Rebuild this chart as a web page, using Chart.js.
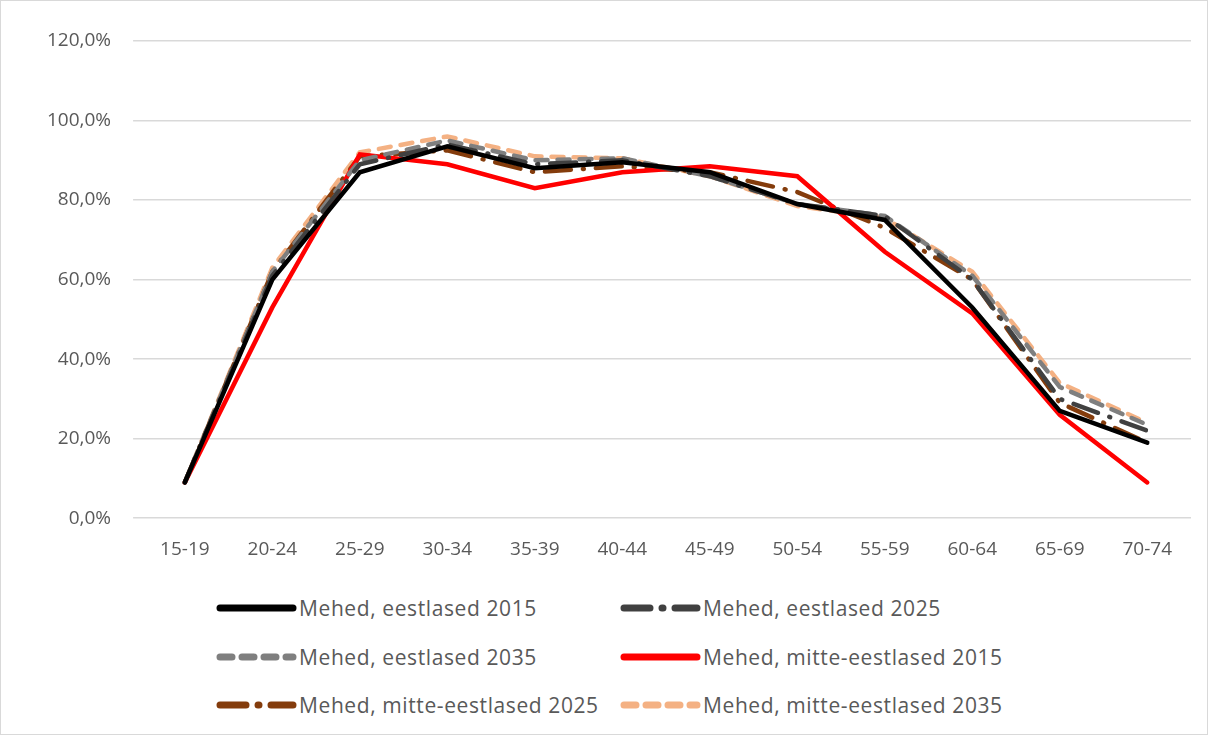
<!DOCTYPE html>
<html>
<head>
<meta charset="utf-8">
<script src="https://cdn.jsdelivr.net/npm/chart.js@4"></script>
<style>
  body { margin: 0; background: #fff; font-family: "Open Sans", sans-serif; }
  #wrap { position: relative; width: 1206px; height: 733px; border: 1px solid #d9d9d9; }
  #chart-box { position: absolute; left: 0; top: 0; width: 1206px; height: 572px; }
  .leg { position: absolute; display: flex; align-items: center; font-size: 21px; color: #595959; white-space: nowrap; letter-spacing: 0.6px; }
  .leg svg { margin-right: 2px; }
</style>
</head>
<body>
<div id="wrap">
  <div id="chart-box"><canvas id="chart"></canvas></div>
  <div id="legend"></div>
</div>
<script>
const categories = ["15-19","20-24","25-29","30-34","35-39","40-44","45-49","50-54","55-59","60-64","65-69","70-74"];
const est2015 = [9, 60, 87, 93.5, 88, 89.5, 87, 79, 75, 53, 27, 19];
const est2025 = [9, 61, 89, 94, 89, 90, 86, 79, 76, 60, 30, 22];
const est2035 = [9, 62, 90, 95, 90, 90.5, 86, 79, 76, 61, 33, 23.5];
const mid2015 = [9, 53, 91.5, 89, 83, 87, 88.5, 86, 67, 51.5, 26, 9];
const mid2025 = [9, 62, 91, 92.5, 87, 88.5, 87, 82, 73, 60, 29, 19];
const mid2035 = [9, 63, 92, 96, 91, 90.5, 86, 78.5, 75.5, 62, 34, 24];

const series = [
    { label: "Mehed, eestlased 2015", data: est2015, color: "#000000", dash: [] },
    { label: "Mehed, eestlased 2025", data: est2025, color: "#404040", dash: [26, 12, 1, 12] },
    { label: "Mehed, eestlased 2035", data: est2035, color: "#7f7f7f", dash: [12, 10] },
    { label: "Mehed, mitte-eestlased 2015", data: mid2015, color: "#ff0000", dash: [] },
    { label: "Mehed, mitte-eestlased 2025", data: mid2025, color: "#843c0c", dash: [26, 12, 1, 12] },
    { label: "Mehed, mitte-eestlased 2035", data: mid2035, color: "#f4b183", dash: [12, 10] },
];

const tickFont = { family: "Open Sans", size: 19 };

new Chart(document.getElementById("chart"), {
    type: "line",
    data: {
        labels: categories,
        datasets: series.map(s => ({
            label: s.label,
            data: s.data,
            borderColor: s.color,
            borderDash: s.dash,
            borderWidth: 4.5,
            borderCapStyle: "round",
            pointRadius: 0,
            tension: 0,
            fill: false,
        })),
    },
    options: {
        responsive: true,
        maintainAspectRatio: false,
        animation: false,
        layout: { padding: { left: 24, right: 16, top: 40, bottom: 0 } },
        plugins: { legend: { display: false }, tooltip: { enabled: false } },
        scales: {
            x: {
                offset: true,
                grid: { display: false },
                border: { display: false },
                ticks: { color: "#595959", font: tickFont, padding: 12, maxRotation: 0 },
            },
            y: {
                min: 0, max: 120,
                grid: { color: "#d9d9d9", lineWidth: 1.5 },
                border: { display: false },
                ticks: {
                    stepSize: 20, color: "#595959", font: tickFont, padding: 22,
                    callback: v => v.toFixed(1).replace(".", ",") + "%",
                },
            },
        },
    },
});

// legend, two columns
const legend = document.getElementById("legend");
const legPos = [[214, 608], [618, 608], [214, 657], [618, 657], [214, 705], [618, 705]];
series.forEach((s, i) => {
    const d = document.createElement("div");
    d.className = "leg";
    d.style.left = legPos[i][0] + "px";
    d.style.top = (legPos[i][1] - 15) + "px";
    const dash = s.dash.length ? s.dash.join(",") : "none";
    d.innerHTML = `<svg width="82" height="28"><line x1="5" y1="14" x2="78" y2="14" stroke="${s.color}"
        stroke-width="7" stroke-linecap="round" stroke-dasharray="${dash}"/></svg><span>${s.label}</span>`;
    legend.appendChild(d);
});
</script>
</body>
</html>
